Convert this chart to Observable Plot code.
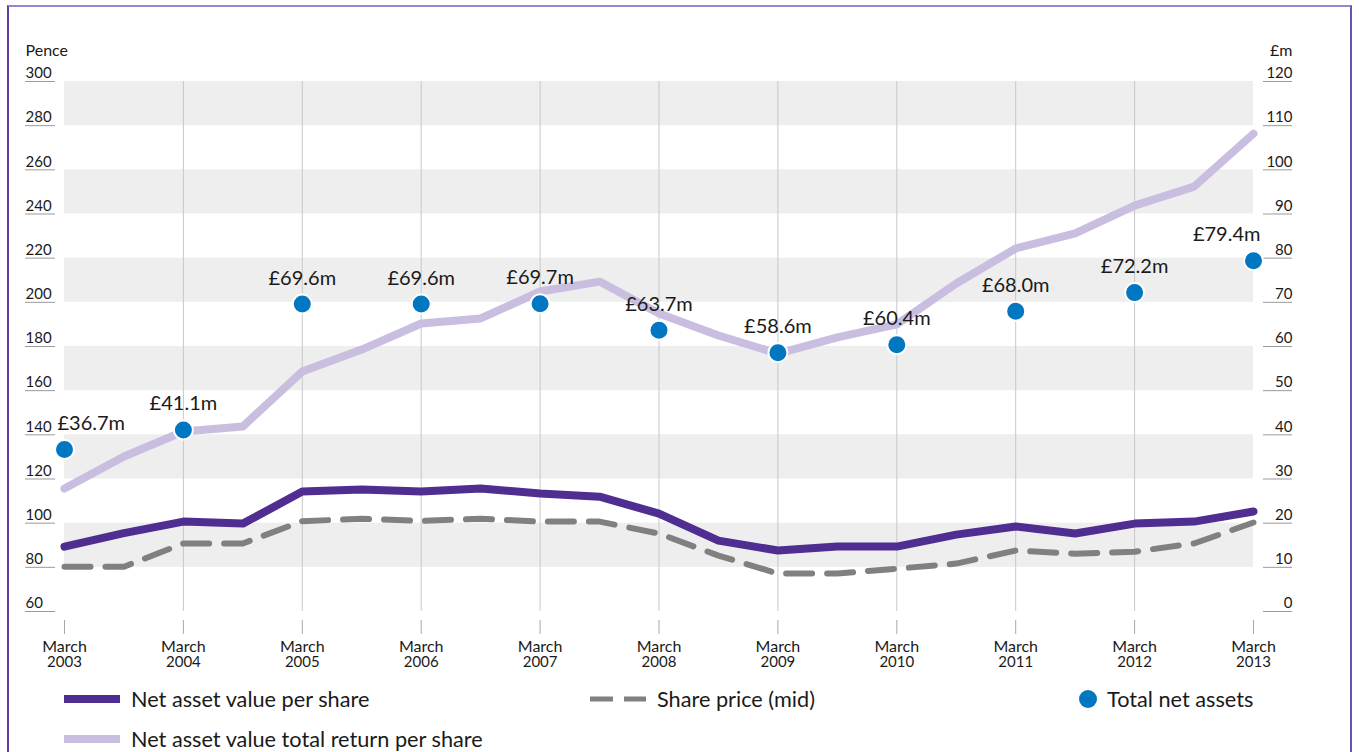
<!DOCTYPE html>
<html>
<head>
<meta charset="utf-8">
<script src="https://cdn.jsdelivr.net/npm/d3@7"></script>
<script src="https://cdn.jsdelivr.net/npm/@observablehq/plot@0.6"></script>
<style>
  html, body { margin: 0; padding: 0; background: #fff; }
  #wrap { position: relative; width: 1359px; height: 752px; overflow: hidden; font-family: Lato, sans-serif; color: #1a1a1a; }
  #frame { position: absolute; left: 7px; top: 5px; width: 1345px; height: 760px;
           border-top: 2px solid #9A85CC; border-left: 2px solid #5A3CA6; border-right: 2px solid #6A50B8; box-sizing: border-box; }
  #chart { position: absolute; left: 0; top: 0; }
  .leg { position: absolute; display: flex; align-items: center; font-size: 21.7px; white-space: nowrap; }
  .leg svg { margin-right: 11px; }
</style>
</head>
<body>
<div id="wrap">
  <div id="frame"></div>
  <div id="chart"></div>
  <div class="leg" style="left:64px; top:686px;"><svg width="56" height="24"><line x1="0" x2="56" y1="12" y2="12" stroke="#4F2D91" stroke-width="8"/></svg>Net asset value per share</div>
  <div class="leg" style="left:590px; top:686px;"><svg width="56" height="24"><line x1="0" x2="56" y1="12" y2="12" stroke="#808080" stroke-width="5" stroke-dasharray="23,11"/></svg>Share price (mid)</div>
  <div class="leg" style="left:1078px; top:686px;"><svg width="20" height="24" style="margin-right:9px"><circle cx="10" cy="12" r="9" fill="#0077C0"/></svg>Total net assets</div>
  <div class="leg" style="left:64px; top:726px;"><svg width="56" height="24"><line x1="0" x2="56" y1="12" y2="12" stroke="#C9BEDF" stroke-width="8"/></svg>Net asset value total return per share</div>
</div>
<script>
// ---- Data ----
const periods = [2003, 2003.5, 2004, 2004.5, 2005, 2005.5, 2006, 2006.5, 2007, 2007.5, 2008, 2008.5, 2009, 2009.5, 2010, 2010.5, 2011, 2011.5, 2012, 2012.5, 2013];
const navPerShare    = [89.4, 95.5, 100.7, 99.8, 114.3, 115.2, 114.3, 115.7, 113.4, 112.0, 104.3, 92.1, 87.6, 89.4, 89.4, 94.8, 98.5, 95.3, 99.8, 100.7, 105.3];
const sharePrice     = [80.3, 80.3, 90.8, 90.8, 100.9, 102.0, 101.0, 102.0, 100.7, 100.7, 95.3, 85.3, 77.2, 77.2, 79.4, 81.7, 87.6, 86.2, 87.1, 90.8, 100.3];
const navTotalReturn = [115.7, 130.2, 141.5, 143.8, 168.7, 178.6, 190.4, 192.7, 204.9, 209.4, 194.9, 185.0, 176.8, 184.1, 190.0, 208.5, 224.4, 231.2, 243.8, 252.4, 276.4];

const years = [2003, 2004, 2005, 2006, 2007, 2008, 2009, 2010, 2011, 2012, 2013];
const totalNetAssets = [36.7, 41.1, 69.6, 69.6, 69.7, 63.7, 58.6, 60.4, 68.0, 72.2, 79.4]; // £m

const penceTicks = [60, 80, 100, 120, 140, 160, 180, 200, 220, 240, 260, 280, 300];
const millionTicks = [0, 10, 20, 30, 40, 50, 60, 70, 80, 90, 100, 110, 120];
const bandPairs = [[80, 100], [120, 140], [160, 180], [200, 220], [240, 260], [280, 300]];

// right axis (£m) maps onto left axis (pence): 0 -> 60p, 120 -> 300p
const toPence = m => 60 + 2 * m;

const rows = (vals) => periods.map((t, i) => ({t, v: vals[i]}));
const tna = years.map((t, i) => ({t, v: totalNetAssets[i], y: toPence(totalNetAssets[i]), label: "£" + totalNetAssets[i].toFixed(1) + "m"}));
const lastYear = years[years.length - 1], firstYear = years[0];

const W = 1359, H = 680, ML = 64, MR = 106, MT = 81, MB = 69;
const PW = W - ML - MR;

const chart = Plot.plot({
  width: W, height: H,
  marginLeft: ML, marginRight: MR, marginTop: MT, marginBottom: MB,
  x: {domain: [2003, 2013], axis: null},
  y: {domain: [60, 300], axis: null},
  style: {fontFamily: "Lato, sans-serif", background: "transparent", color: "#1a1a1a", overflow: "visible"},
  marks: [
    Plot.rect(bandPairs, {y1: d => d[0], y2: d => d[1], fill: "#eeeeee"}),
    Plot.ruleX(years.slice(1, -1), {x: d => d, y1: 60, y2: 300, stroke: "#c8c8c8", strokeWidth: 1}),
    Plot.ruleX(years, {x: d => d, insetTop: 539, insetBottom: -23, stroke: "#a8a8a8", strokeWidth: 1}),
    // left axis
    Plot.ruleY(penceTicks, {y: d => d, insetLeft: -39, insetRight: PW + 9, stroke: "#9a9a9a", strokeWidth: 1}),
    Plot.text(penceTicks, {y: d => d, text: d => String(d), frameAnchor: "left", textAnchor: "start", dx: -39, dy: -8, fontSize: 15, fill: "#1a1a1a"}),
    Plot.text(["Pence"], {frameAnchor: "top-left", lineAnchor: "middle", text: d => d, textAnchor: "start", dx: -39, dy: -31, fontSize: 16, fill: "#1a1a1a"}),
    // right axis
    Plot.ruleY(millionTicks, {y: d => toPence(d), insetLeft: PW + 10, insetRight: -39, stroke: "#9a9a9a", strokeWidth: 1}),
    Plot.text(millionTicks, {y: d => toPence(d), text: d => String(d), frameAnchor: "right", textAnchor: "end", dx: 39, dy: -8, fontSize: 15, fill: "#1a1a1a"}),
    Plot.text(["£m"], {frameAnchor: "top-right", lineAnchor: "middle", text: d => d, textAnchor: "end", dx: 39, dy: -31, fontSize: 16, fill: "#1a1a1a"}),
    // x labels
    Plot.text(years, {x: d => d, text: () => "March", frameAnchor: "bottom", lineAnchor: "middle", dy: 35, fontSize: 16, fill: "#1a1a1a"}),
    Plot.text(years, {x: d => d, text: d => String(d), frameAnchor: "bottom", lineAnchor: "middle", dy: 51, fontSize: 15, fill: "#1a1a1a"}),
    // series
    Plot.line(rows(navTotalReturn), {x: "t", y: "v", stroke: "#C9BEDF", strokeWidth: 8, strokeLinecap: "round", strokeLinejoin: "round"}),
    Plot.line(rows(sharePrice), {x: "t", y: "v", stroke: "#808080", strokeWidth: 6, strokeDasharray: "26,15", strokeLinejoin: "round"}),
    Plot.line(rows(navPerShare), {x: "t", y: "v", stroke: "#4F2D91", strokeWidth: 8, strokeLinecap: "round", strokeLinejoin: "round"}),
    Plot.dot(tna, {x: "t", y: "y", r: 9.5, fill: "#0077C0", stroke: "white", strokeWidth: 2}),
    Plot.text(tna.filter(d => d.t !== firstYear && d.t !== lastYear), {x: "t", y: "y", text: "label", dy: -26, fontSize: 20, fill: "#1a1a1a"}),
    Plot.text(tna.filter(d => d.t === firstYear), {x: "t", y: "y", text: "label", dy: -26, dx: -7, textAnchor: "start", fontSize: 20, fill: "#1a1a1a"}),
    Plot.text(tna.filter(d => d.t === lastYear), {x: "t", y: "y", text: "label", dy: -26, dx: 7, textAnchor: "end", fontSize: 20, fill: "#1a1a1a"})
  ]
});
document.getElementById("chart").appendChild(chart);
</script>
</body>
</html>
